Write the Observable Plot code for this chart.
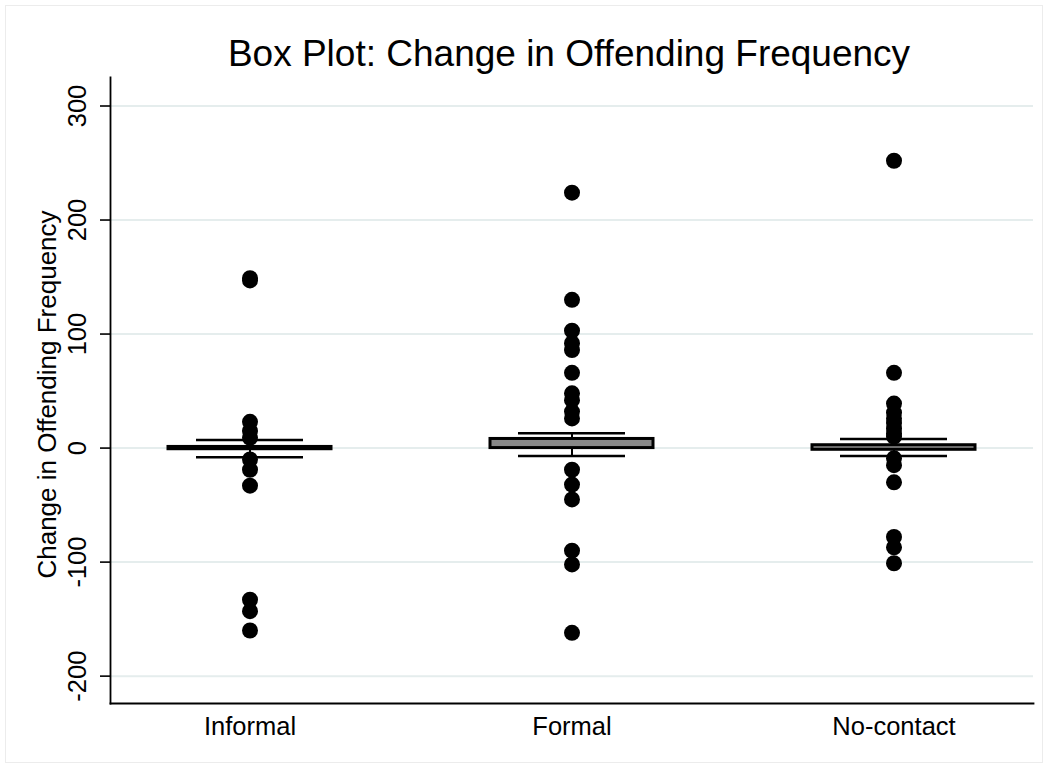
<!DOCTYPE html>
<html>
<head>
<meta charset="utf-8">
<script src="https://cdn.jsdelivr.net/npm/d3@7"></script>
<script src="https://cdn.jsdelivr.net/npm/@observablehq/plot@0.6"></script>
<style>
  html, body { margin: 0; padding: 0; background: #fff; }
  #page { position: relative; width: 1047px; height: 766px; overflow: hidden; font-family: "Liberation Sans", Arial, sans-serif; }
  #outline { position: absolute; left: 5px; top: 5px; width: 1036px; height: 756px; border: 1px solid #ececec; }
  #title { position: absolute; left: 0; top: 35px; width: 1138px; text-align: center; font-size: 37px; line-height: 37px; color: #000; white-space: nowrap; }
  #chart { position: absolute; left: 0; top: 76px; }
</style>
</head>
<body>
<div id="page">
  <div id="outline"></div>
  <div id="title">Box Plot: Change in Offending Frequency</div>
  <div id="chart"></div>
</div>
<script>
// Groups and box statistics
const groups = ["Informal", "Formal", "No-contact"];
const lowerQuartile = [-1, 0, -1.5];
const upperQuartile = [1, 8, 2.5];
const lowerWhisker = [-8, -7, -7];
const upperWhisker = [7, 13, 8];

// Outside values per group
const informalOutliers = [149, 147, 23, 15, 9, -10, -19, -33, -133, -143, -160];
const formalOutliers = [224, 130, 103, 92, 86, 66, 48, 42, 32, 26, -19, -32, -45, -90, -102, -162];
const noContactOutliers = [252, 66, 39, 31, 26, 22, 17, 13, 10, -9, -15, -30, -78, -87, -101];

// Axis ticks
const yTicks = [-200, -100, 0, 100, 200, 300];
const yTickLabels = ["-200", "-100", "0", "100", "200", "300"];
const yLabel = "Change in Offending Frequency";

const boxes = groups.map((g, i) => ({
  group: g,
  q1: lowerQuartile[i],
  q3: upperQuartile[i],
  lo: lowerWhisker[i],
  hi: upperWhisker[i]
}));

const outliers = [
  ...informalOutliers.map(v => ({group: groups[0], value: v})),
  ...formalOutliers.map(v => ({group: groups[1], value: v})),
  ...noContactOutliers.map(v => ({group: groups[2], value: v}))
];

const tickRows = yTicks.map((t, i) => ({value: t, label: yTickLabels[i]}));

const chart = Plot.plot({
  width: 1047,
  height: 690,
  marginTop: 1,
  marginBottom: 63,
  marginLeft: 110,
  marginRight: 14,
  style: {fontFamily: "'Liberation Sans', Arial, sans-serif", color: "#000", background: "transparent"},
  x: {type: "band", domain: groups, paddingInner: 0.494, paddingOuter: 0.179, label: null},
  y: {domain: [-224, 325], label: null},
  marks: [
    Plot.gridY(yTicks, {stroke: "#e5eded", strokeOpacity: 1, strokeWidth: 2}),
    Plot.axisY(yTicks, {tickSize: 10, tickFormat: () => "", stroke: "#000", strokeWidth: 1.6, label: null}),
    Plot.text(tickRows, {y: "value", text: "label", frameAnchor: "left", rotate: -90, dx: -33, fontSize: 25.5, fill: "#000", textAnchor: "middle", lineAnchor: "middle"}),
    Plot.text([yLabel], {frameAnchor: "left", rotate: -90, dx: -63, dy: 4, fontSize: 26, fill: "#000", textAnchor: "middle", lineAnchor: "middle"}),
    Plot.axisX({tickSize: 0, tickPadding: 13, fontSize: 25.5, fill: "#000", label: null}),
    Plot.frame({anchor: "left", stroke: "#000", strokeWidth: 1.8}),
    Plot.frame({anchor: "bottom", stroke: "#000", strokeWidth: 1.8}),
    // whiskers
    Plot.ruleX(boxes, {x: "group", y1: "q3", y2: "hi", stroke: "#000", strokeWidth: 2}),
    Plot.ruleX(boxes, {x: "group", y1: "lo", y2: "q1", stroke: "#000", strokeWidth: 2}),
    Plot.tickY(boxes, {x: "group", y: "hi", insetLeft: 28, insetRight: 28, stroke: "#000", strokeWidth: 2.5}),
    Plot.tickY(boxes, {x: "group", y: "lo", insetLeft: 28, insetRight: 28, stroke: "#000", strokeWidth: 2.5}),
    // interquartile box
    Plot.barY(boxes, {x: "group", y1: "q1", y2: "q3", fill: "#888888", stroke: "#000", strokeWidth: 3}),
    // outside values
    Plot.dot(outliers, {x: "group", y: "value", r: 8, fill: "#000", stroke: "none"})
  ]
});

document.getElementById("chart").appendChild(chart);
</script>
</body>
</html>
